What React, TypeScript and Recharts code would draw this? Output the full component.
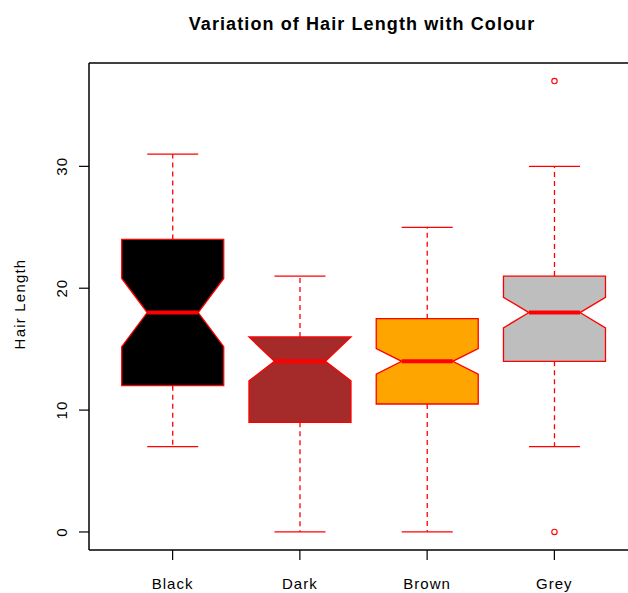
import { ComposedChart, Bar, XAxis, YAxis, ReferenceLine } from 'recharts';

// hair colour groups and the five-number summaries
const colours = ['Black', 'Dark', 'Brown', 'Grey'];
const boxFills = ['#000000', '#a52a2a', '#ffa500', '#bebebe'];
const whiskerLow = [7, 0, 0, 7];
const lowerHinge = [12, 9, 10.5, 14];
const notchLow = [15.2, 12.4, 12.95, 16.75];
const medians = [18, 14, 14, 18];
const notchHigh = [20.8, 16, 15.05, 19.25];
const upperHinge = [24, 16, 17.5, 21];
const whiskerHigh = [31, 21, 25, 30];
const outliers: number[][] = [[], [], [], [0, 37]];
const yTicks = [0, 10, 20, 30];

const FONT = '"Liberation Sans", Arial, Helvetica, sans-serif';
const RED = '#ff0000';

const rows = colours.map((name, i) => ({
    name,
    fill: boxFills[i],
    wLo: whiskerLow[i],
    q1: lowerHinge[i],
    nLo: notchLow[i],
    med: medians[i],
    nHi: notchHigh[i],
    q3: upperHinge[i],
    wHi: whiskerHigh[i],
    out: outliers[i],
    // full extent so the bar geometry gives us the y scale for this group
    range: [Math.min(whiskerLow[i], ...outliers[i]), Math.max(whiskerHigh[i], ...outliers[i])],
}));

function BoxShape(props: any) {
    const { x, y, width, height, payload } = props;
    const [lo, hi] = payload.range;
    const top = Math.min(y, y + height);
    const bottom = Math.max(y, y + height);
    const toPx = (v: number) => bottom - ((v - lo) / (hi - lo)) * (bottom - top);

    const cx = x + width / 2;
    const half = width / 2;
    const xl = cx - half;
    const xr = cx + half;
    const xm = half / 2;

    const pts = [
        [xl, payload.q1], [xl, payload.nLo], [cx - xm, payload.med], [xl, payload.nHi], [xl, payload.q3],
        [xr, payload.q3], [xr, payload.nHi], [cx + xm, payload.med], [xr, payload.nLo], [xr, payload.q1],
    ].map(([px, v]) => `${px},${toPx(v)}`).join(' ');

    return (
        <g>
            {/* whiskers */}
            <line x1={cx} x2={cx} y1={toPx(payload.q3)} y2={toPx(payload.wHi)} stroke={RED} strokeWidth={1.3} strokeDasharray="5 4" />
            <line x1={cx} x2={cx} y1={toPx(payload.q1)} y2={toPx(payload.wLo)} stroke={RED} strokeWidth={1.3} strokeDasharray="5 4" />
            <line x1={cx - xm} x2={cx + xm} y1={toPx(payload.wHi)} y2={toPx(payload.wHi)} stroke={RED} strokeWidth={1.3} />
            <line x1={cx - xm} x2={cx + xm} y1={toPx(payload.wLo)} y2={toPx(payload.wLo)} stroke={RED} strokeWidth={1.3} />
            {/* notched box */}
            <polygon points={pts} fill={payload.fill} stroke={RED} strokeWidth={1.3} />
            <line x1={cx - xm} x2={cx + xm} y1={toPx(payload.med)} y2={toPx(payload.med)} stroke={RED} strokeWidth={4} />
            {payload.out.map((v: number, k: number) => (
                <circle key={k} cx={cx} cy={toPx(v)} r={2.7} fill="none" stroke={RED} strokeWidth={1.1} />
            ))}
        </g>
    );
}

function XTick({ x, y, payload }: any) {
    return (
        <text x={x} y={y + 27} textAnchor="middle" fontFamily={FONT} fontSize={15} letterSpacing={1} fill="#000">
            {payload.value}
        </text>
    );
}

function YTick({ x, y, payload }: any) {
    const bx = x - 10;
    return (
        <text x={bx} y={y} transform={`rotate(-90, ${bx}, ${y})`} textAnchor="middle" fontFamily={FONT} fontSize={15} letterSpacing={1} fill="#000">
            {payload.value}
        </text>
    );
}

export default function App() {
    return (
        <div style={{ position: 'absolute', left: 0, top: 0, width: 628, height: 593, overflow: 'hidden', background: '#fff' }}>
            <ComposedChart width={645} height={593} data={rows} margin={{ top: 63, right: 7, left: 0, bottom: 0 }} barCategoryGap="10%">
                <XAxis
                    dataKey="name"
                    interval={0}
                    padding={{ left: 20, right: 20 }}
                    height={43}
                    tickSize={10}
                    axisLine={{ stroke: '#000', strokeWidth: 1.5 }}
                    tickLine={{ stroke: '#000', strokeWidth: 1.2 }}
                    tick={<XTick />}
                />
                <YAxis
                    type="number"
                    domain={[-1.48, 38.48]}
                    allowDataOverflow
                    ticks={yTicks}
                    width={89}
                    tickSize={10}
                    axisLine={{ stroke: '#000', strokeWidth: 1.5 }}
                    tickLine={{ stroke: '#000', strokeWidth: 1.2 }}
                    tick={<YTick />}
                />
                <ReferenceLine y={38.48} stroke="#000" strokeWidth={1.5} />
                <Bar dataKey="range" shape={<BoxShape />} isAnimationActive={false} />
            </ComposedChart>
            <svg width={628} height={593} style={{ position: 'absolute', left: 0, top: 0, pointerEvents: 'none' }}>
                <text x={362} y={30} textAnchor="middle" fontFamily={FONT} fontSize={18} fontWeight="bold" letterSpacing={1.1} fill="#000">
                    Variation of Hair Length with Colour
                </text>
                <text x={25} y={304} transform="rotate(-90, 25, 304)" textAnchor="middle" fontFamily={FONT} fontSize={15} letterSpacing={1.2} fill="#000">
                    Hair Length
                </text>
            </svg>
        </div>
    );
}
